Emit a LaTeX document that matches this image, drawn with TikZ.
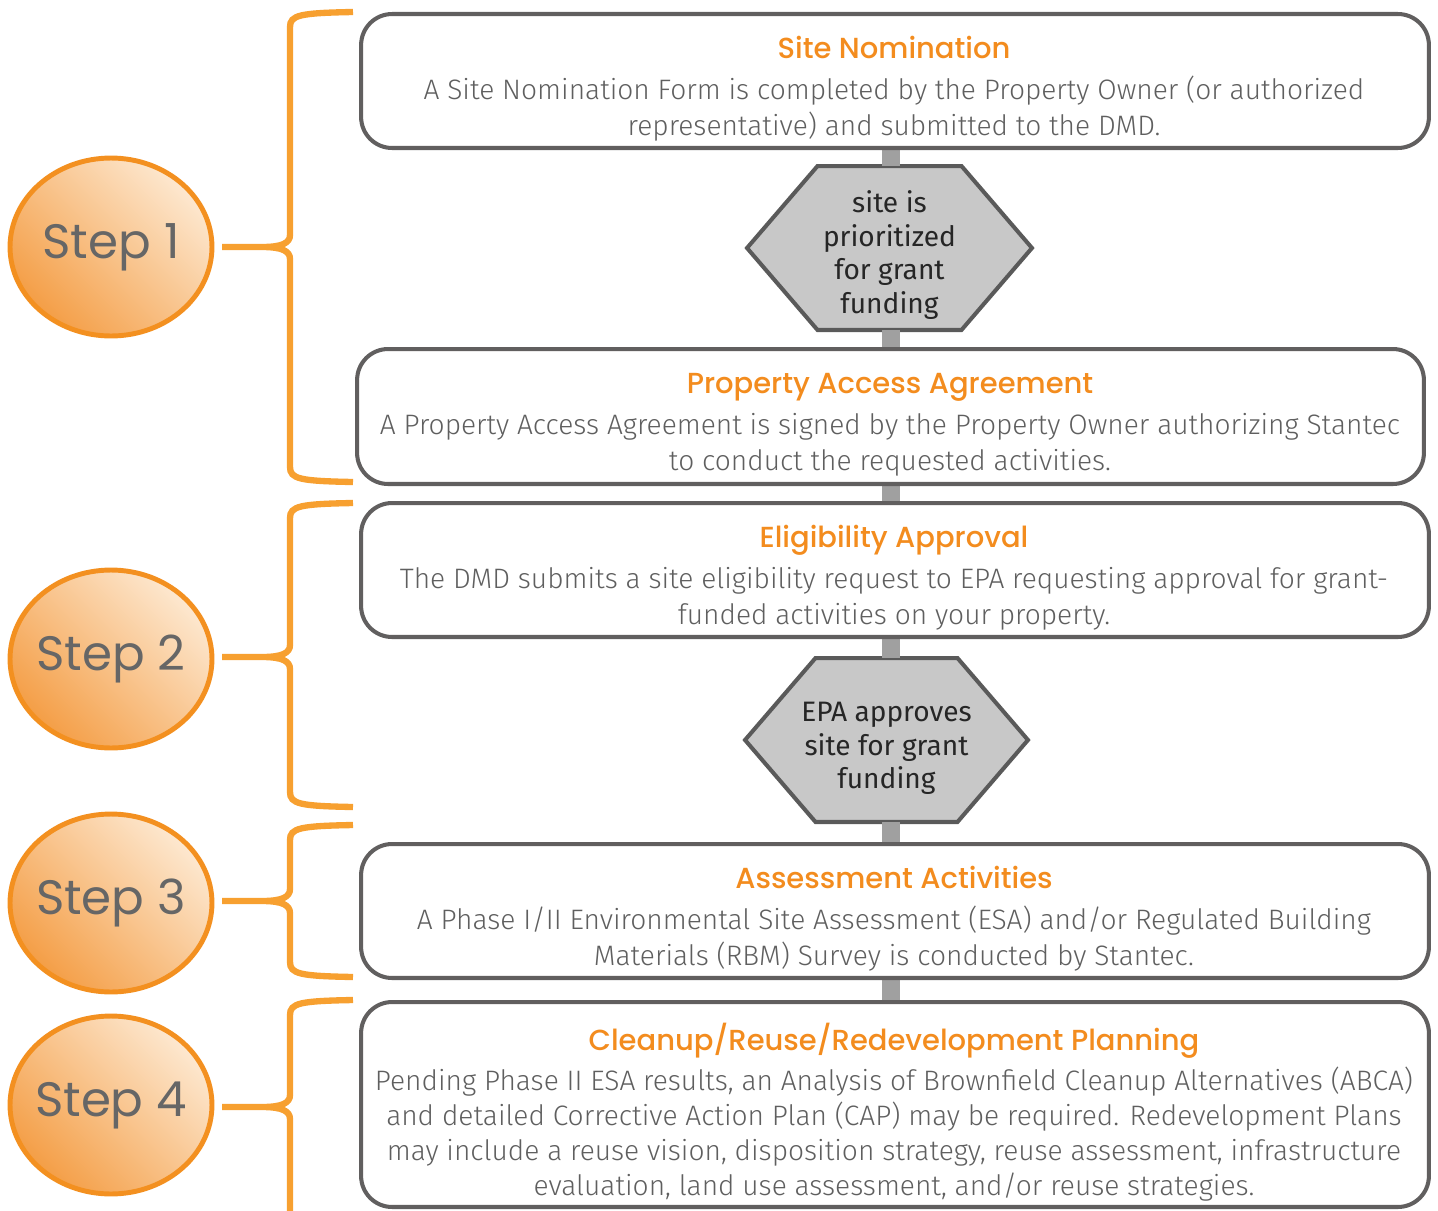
\documentclass[tikz,border=0pt]{standalone}
\usepackage{fontspec}
\usetikzlibrary{shapes.geometric,backgrounds}
\IfFontExistsTF{Fira Sans Light}{\setmainfont{Fira Sans Light}}{\setmainfont{Fira Sans}}
\IfFontExistsTF{Poppins Medium}{\newfontfamily\titlefont{Poppins Medium}}{\newfontfamily\titlefont{Poppins}}
\newfontfamily\stepfont{Poppins}
\newfontfamily\hexfont{Fira Sans}

\definecolor{stepline}{RGB}{243,144,32}
\definecolor{stepdark}{RGB}{244,158,70}
\definecolor{steplight}{RGB}{253,232,208}
\definecolor{bracecol}{RGB}{247,160,48}
\definecolor{boxline}{RGB}{97,95,95}
\definecolor{titlecol}{RGB}{243,140,30}
\definecolor{bodycol}{RGB}{95,95,95}
\definecolor{hexfill}{RGB}{200,200,200}
\definecolor{hexline}{RGB}{90,90,90}
\definecolor{barcol}{RGB}{160,160,160}
\newcommand{\ttl}[1]{{\titlefont\fontsize{16.5}{20}\selectfont\color{titlecol}#1}}

\begin{document}
\begin{tikzpicture}[x=0.02cm, y=-0.02cm,
  stepnode/.style={ellipse, draw=stepline, line width=2.8pt, minimum width=4.04cm, minimum height=3.56cm,
    inner sep=0pt, left color=steplight, right color=stepdark, shading angle=-45, text=black!60,
    font=\stepfont\fontsize{27.5}{30}\selectfont},
  boxnode/.style={draw=boxline, line width=2.3pt, rounded corners=0.62cm, fill=white,
    minimum width=21.36cm, minimum height=2.68cm, outer sep=0pt},
  boxtext/.style={align=center, text=bodycol, font=\fontsize{16}{20.4}\selectfont},
  hexnode/.style={minimum width=5.7cm, minimum height=3.28cm, outer sep=0pt},
  hextext/.style={align=center, text=black!85, font=\hexfont\fontsize{16}{19}\selectfont},
  hexshape/.style={draw=hexline, fill=hexfill, line width=2.3pt, line join=miter},
  bar/.style={draw=barcol, line width=10.2pt},
  bracket/.style={draw=bracecol, line width=3.6pt}]
\useasboundingbox (0,0) rectangle (1438,1211);
\clip (0,0) rectangle (1438,1211);

% the steps on the left
\foreach \n/\y in {1/247,2/659,3/903,4/1105}
\node[stepnode] (step\n) at (111,\y) {\makebox[0pt]{Step \n}};

% braces: top / tip / bottom
\foreach \t/\m/\b in {12/247/482, 503/657/807, 825/901/977, 1000/1107/1240}
\draw[bracket] (353,\t) .. controls (300,\t+1) and (290,\t+3) .. (290,\t+15) -- (290,\m-12)
  .. controls (290,\m-4) and (282,\m) .. (262,\m) -- (222,\m)
  (262,\m) .. controls (282,\m) and (290,\m+4) .. (290,\m+12) -- (290,\b-15)
  .. controls (290,\b-3) and (300,\b-1) .. (353,\b);

% the boxes
\node[boxnode] (site) at (895,81) {};
\node[boxnode, minimum width=21.34cm, minimum height=2.7cm] (access) at (890.5,416.5) {};
\node[boxnode] (elig) at (895,570) {};
\node[boxnode] (assess) at (895,911) {};
\node[boxnode, minimum height=4.1cm] (cleanup) at (895,1104.5) {};

\node[boxtext] (siteText) at (894,88.5) {\ttl{Site Nomination}\\[2.8pt]
  A Site Nomination Form is completed by the Property Owner (or authorized\\
  representative) and submitted to the DMD.};
\node[boxtext] (accessText) at (890,424.5) {\ttl{Property Access Agreement}\\[2.8pt]
  A Property Access Agreement is signed by the Property Owner authorizing Stantec\\
  to conduct the requested activities.};
\node[boxtext] (eligText) at (894,577.5) {\ttl{Eligibility Approval}\\[2.8pt]
  The DMD submits a site eligibility request to EPA requesting approval for grant-\\
  funded activities on your property.};
\node[boxtext] (assessText) at (894,918.5) {\ttl{Assessment Activities}\\[2.8pt]
  A Phase I/II Environmental Site Assessment (ESA) and/or Regulated Building\\
  Materials (RBM) Survey is conducted by Stantec.};
\node[boxtext, font=\fontsize{16}{20}\selectfont] (cleanupText) at (894,1112) {\ttl{Cleanup/Reuse/Redevelopment Planning}\\[2.8pt]
  Pending Phase II ESA results, an Analysis of Brownfield Cleanup Alternatives (ABCA)\\
  and detailed Corrective Action Plan (CAP) may be required. Redevelopment Plans\\
  may include a reuse vision, disposition strategy, reuse assessment, infrastructure\\
  evaluation, land use assessment, and/or reuse strategies.};

% the decisions
\node[hexnode] (prio) at (889.5,248) {};
\node[hextext] (prioText) at ([yshift=-4pt]prio.center) {site is\\ prioritized\\ for grant\\ funding};
\node[hexnode, minimum width=5.66cm] (approve) at (886.5,740) {};
\node[hextext] (approveText) at ([yshift=-4.8pt]approve.center) {EPA approves\\ site for grant\\ funding};

\begin{scope}[on background layer]
\foreach \h in {prio,approve}
\draw[hexshape] (\h.west) -- ([xshift=1.41cm]\h.north west) -- ([xshift=-1.41cm]\h.north east)
  -- (\h.east) -- ([xshift=-1.41cm]\h.south east) -- ([xshift=1.41cm]\h.south west) -- cycle;
\coordinate (spine) at (891,0);
\foreach \a/\b in {site/prio, prio/access, access/elig, elig/approve, approve/assess, assess/cleanup}
\draw[bar] (spine |- \a.south) -- (spine |- \b.north);
\end{scope}
\end{tikzpicture}
\end{document}
